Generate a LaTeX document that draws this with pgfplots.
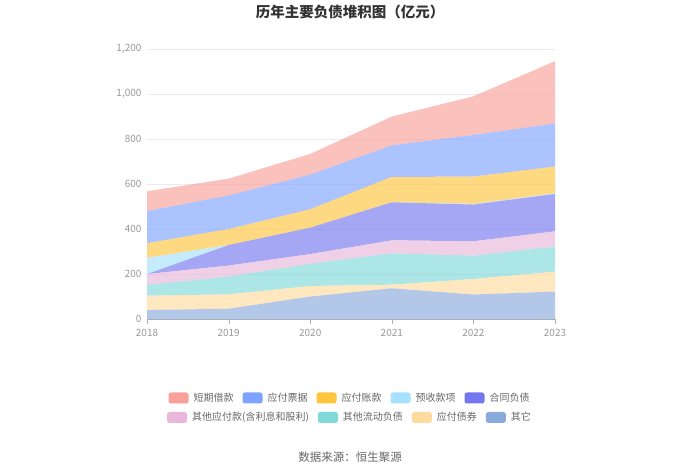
\documentclass[border=0pt]{standalone}
\usepackage{pgfplots}
\pgfplotsset{compat=1.18}
\usepackage{pgfplotstable}
\usepackage{fontspec}
\setmainfont{Noto Sans CJK SC}
\definecolor{cA}{HTML}{F9A09A}
\definecolor{cB}{HTML}{7EA3FF}
\definecolor{cC}{HTML}{FFC53D}
\definecolor{cD}{HTML}{A6E1FF}
\definecolor{cE}{HTML}{7478F0}
\definecolor{cF}{HTML}{E8B7DA}
\definecolor{cG}{HTML}{80D8D8}
\definecolor{cH}{HTML}{FFDA9E}
\definecolor{cI}{HTML}{8AAADC}
\definecolor{tgrey}{HTML}{999999}
\definecolor{lgrey}{HTML}{666666}
\definecolor{gridc}{HTML}{EBEBF0}
\pgfplotstableread{
x    qita zhaiquan liudong yingfuk hetong yushou zhangkuan piaoju duanqi
2018 41   64       48      48      0      72     65        143    88
2019 47   64       79      49      91     0      71        149    75
2020 101  47       99      43      117    0      82        154    92
2021 138  16       139     58      169    0      113       140    128
2022 110  69       104     64      163    3      121       185    172
2023 123  89       111     68      166    3      119       191    277
}\data
\begin{document}
\begin{tikzpicture}
\path (0,0) rectangle (700pt,473pt);
\node[font=\fontsize{14.5}{16}\selectfont\bfseries, text=black!80] at (350pt,461pt) {历年主要负债堆积图（亿元）};
\node[font=\fontsize{11.5}{13}\selectfont, text=lgrey] at (350pt,16pt) {数据来源：恒生聚源};
\begin{axis}[
  at={(147pt,153.7pt)}, anchor=south west,
  scale only axis, width=408pt, height=270pt,
  xmin=2018, xmax=2023, ymin=0, ymax=1200,
  stack plots=y,
  xtick={2018,2019,2020,2021,2022,2023},
  ytick={0,200,400,600,800,1000,1200},
  x tick label style={/pgf/number format/1000 sep={}},
  y tick label style={/pgf/number format/1000 sep={,}},
  /pgf/number format/assume math mode=true,
  tick label style={font=\fontsize{10}{12}\selectfont, text=tgrey},
  axis x line*=bottom, axis y line*=left,
  x axis line style={color=gray!60, line width=0.8pt, -},
  y axis line style={draw=none},
  xtick style={color=gray!60},
  ytick style={draw=none},
  xtick align=outside, major tick length=5pt,
  ymajorgrids, grid style={color=gridc, line width=0.8pt},
  yticklabel style={xshift=-2pt},
  xticklabel style={yshift=-1pt},
  every axis plot/.append style={draw=none, fill opacity=0.65},
]
\addplot[fill=cI] table[x=x,y=qita] {\data} \closedcycle;
\addplot[fill=cH] table[x=x,y=zhaiquan] {\data} \closedcycle;
\addplot[fill=cG] table[x=x,y=liudong] {\data} \closedcycle;
\addplot[fill=cF] table[x=x,y=yingfuk] {\data} \closedcycle;
\addplot[fill=cE] table[x=x,y=hetong] {\data} \closedcycle;
\addplot[fill=cD] table[x=x,y=yushou] {\data} \closedcycle;
\addplot[fill=cC] table[x=x,y=zhangkuan] {\data} \closedcycle;
\addplot[fill=cB] table[x=x,y=piaoju] {\data} \closedcycle;
\addplot[fill=cA] table[x=x,y=duanqi] {\data} \closedcycle;
\end{axis}
\pgfplotsset{legaxis/.style={
  anchor=center, hide axis, scale only axis, width=1pt, height=1pt,
  xmin=0, xmax=1, ymin=0, ymax=1,
  legend style={at={(0.5,0.5)}, anchor=center, draw=none, fill=none,
    font=\fontsize{10}{12}\selectfont, text=lgrey,
    /tikz/every odd column/.append style={column sep=3pt},
    /tikz/every even column/.append style={column sep=7pt},
    inner sep=0pt},
  legend image code/.code={\fill[##1, draw=none, rounded corners=2.5pt] (0pt,-5.5pt) rectangle (20pt,5.5pt);},
}}
\begin{axis}[legaxis, at={(350pt,75pt)}, legend columns=5]
\addlegendimage{fill=cA}\addlegendentry{短期借款}
\addlegendimage{fill=cB}\addlegendentry{应付票据}
\addlegendimage{fill=cC}\addlegendentry{应付账款}
\addlegendimage{fill=cD}\addlegendentry{预收款项}
\addlegendimage{fill=cE}\addlegendentry{合同负债}
\end{axis}
\begin{axis}[legaxis, at={(350pt,55.5pt)}, legend columns=4]
\addlegendimage{fill=cF}\addlegendentry{其他应付款(含利息和股利)}
\addlegendimage{fill=cG}\addlegendentry{其他流动负债}
\addlegendimage{fill=cH}\addlegendentry{应付债券}
\addlegendimage{fill=cI}\addlegendentry{其它}
\end{axis}
\end{tikzpicture}
\end{document}
